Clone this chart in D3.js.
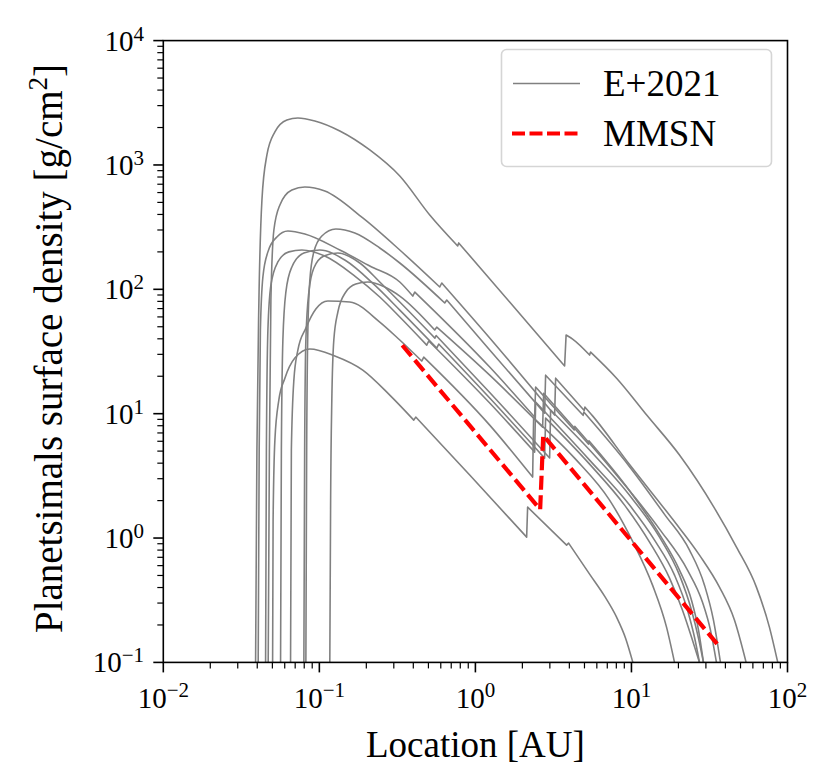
<!DOCTYPE html>
<html><head><meta charset="utf-8">
<script src="https://cdn.jsdelivr.net/npm/d3@7"></script>
<style>
body{margin:0;background:#fff}
svg{display:block}
text{font-family:"Liberation Serif","Times New Roman",serif;fill:#000}
</style>
</head><body>
<svg id="chart" width="830" height="774"></svg>
<script>
// ---- data ----
// Each E+2021 curve is a list of segments [location AU, surface density g/cm^2];
// consecutive segments are joined by the sharp steps of the curve.
const curveA = [
  [[0.03903,0.1],[0.0398,5.1],[0.0410,82],[0.04286,523],[0.04613,1203],[0.05189,1843],[0.06192,2301],[0.07283,2389],[0.09359,2259],[0.1353,1877],[0.2105,1320],[0.3277,815],[0.5099,396],[0.7701,223]],
  [[0.7818,236],[1.658,79.0],[3.730,24.2]],
  [[3.813,42.9],[4.197,39.8],[5.392,29.6]],
  [[5.473,31.3],[8.03,19.3],[12.68,9.57],[20.32,4.65],[34.04,1.74],[47.1,0.845],[63.2,0.403],[76.56,0.192],[86.6,0.1]]
];
const curveB = [
  [[0.04701,0.1],[0.04785,5.1],[0.04892,82],[0.05113,300],[0.05587,477],[0.06666,629],[0.08076,665],[0.1084,618],[0.1898,375],[0.3277,207],[0.5909,104.4]],
  [[0.6086,112.4],[1.235,40.6],[3.219,9.74]],
  [[3.267,19.3],[4.98,10.6]],
  [[5.03,11.3],[5.636,9.6],[9.723,3.9],[18.33,1.42],[27.29,0.729],[36.64,0.403],[45.71,0.219],[54.3,0.1]]
];
const curveC = [
  [[0.04056,0.1],[0.04116,5.1],[0.0419,47.1],[0.04347,125.6],[0.04681,200],[0.05344,263.6],[0.06285,294.4],[0.08076,278.5],[0.1353,207],[0.2105,154],[0.3277,114.5],[0.3968,88.3]],
  [[0.4088,95.1],[1.235,23.7],[2.397,9.39]],
  [[2.432,16.4],[4.30,7.4]],
  [[4.34,7.9],[8.391,3.0],[15.13,1.18],[22.87,0.552],[28.53,0.305],[32.09,0.182],[35.06,0.1]]
];
const curveD = [
  [[0.08196,0.1],[0.08293,5.1],[0.08441,47.1],[0.08695,119],[0.09222,200],[0.1038,268.5],[0.1275,305.6],[0.1688,283.8],[0.2439,215],[0.3277,162.8],[0.6361,77.6]],
  [[0.6553,82.0],[1.235,32.5],[2.777,10.1]],
  [[2.818,20.4],[4.9,9.7]],
  [[4.95,10.3],[9.723,3.75],[16.29,1.55],[23.55,0.799],[29.38,0.418],[33.54,0.219],[37.19,0.1]]
];
const curveE = [
  [[0.1167,0.1],[0.1181,2.02],[0.1202,12.9],[0.1238,39.1],[0.1314,65.7],[0.1478,95.1],[0.1713,110.3],[0.2044,114.5],[0.2627,104.4],[0.3277,88.3],[0.5489,47.1]],
  [[0.5651,49.7],[1.235,20.4],[2.697,7.80]],
  [[2.737,14.6],[5.3,5.7]],
  [[5.34,6.05],[9.723,2.4],[15.13,1.07],[20.32,0.552],[24.26,0.316],[26.9,0.182],[28.94,0.1]]
];
const curveF = [
  [[0.06539,0.1],[0.06617,5.1],[0.06866,18.6],[0.07283,32.5],[0.08196,48.8],[0.09497,69.4],[0.1133,80.5],[0.1567,79.0],[0.2439,54.6],[0.3277,39.1],[0.4532,26.5]],
  [[0.4667,28.5],[1.235,8.09],[2.327,3.09]],
  [[2.361,9.22],[4.322,4.39],[7.241,2.02],[10.16,0.944],[13.65,0.418],[16.78,0.192],[18.88,0.1]]
];
const curveG = [
  [[0.05017,0.1],[0.05054,1.39],[0.05189,6.13],[0.05502,12.9],[0.06014,19.3],[0.06966,28.0],[0.08695,33.1],[0.1257,29.1],[0.1898,22.4],[0.2827,14.1],[0.4027,8.88]],
  [[0.4147,9.39],[0.9195,3.21],[2.130,1.017]],
  [[2.161,1.773],[3.841,0.877]],
  [[3.956,0.910],[5.392,0.5125],[6.727,0.341],[8.03,0.231],[9.17,0.1565],[10.21,0.1]]
];
const curveH = [
  [[0.04524,0.1],[0.04578,5.1],[0.04681,47.1],[0.04892,108],[0.05423,165.9],[0.06378,200],[0.07726,207],[0.1084,185.3],[0.1688,127.9],[0.2439,86.7],[0.3277,59.9],[0.4878,35.6]],
  [[0.5024,38.4],[1.235,12.17],[2.397,4.91]],
  [[2.432,12.4],[5.392,4.23],[9.723,1.84],[14.06,0.962],[18.88,0.503],[22.87,0.263],[25.35,0.1594],[27.29,0.1]]
];
const curveI = [
  [[0.05643,0.1],[0.0571,5.1],[0.05838,39.1],[0.06102,95.1],[0.06666,151.2],[0.07958,195.9],[0.1007,207],[0.1456,172],[0.2266,108],[0.3277,68.1],[0.5652,33.7]],
  [[0.5821,36.3],[1.235,13.35],[2.777,4.39]],
  [[2.818,9.22],[5.392,3.93],[9.033,1.84],[13.06,0.927],[17.54,0.476],[21.24,0.263],[24.61,0.151],[27.29,0.1]]
];
const curveJ = [
  [[0.07958,0.1],[0.08051,5.1],[0.08196,39.1],[0.08566,95.1],[0.09222,148.4],[0.1069,185.3],[0.1314,195.9],[0.1816,162.8],[0.2439,114.5],[0.3277,79.0],[0.55,40.5]],
  [[0.56,42.5],[1.235,14.8],[2.990,4.4]],
  [[3.034,10.7],[5.392,5.10],[9.723,2.21],[15.13,1.017],[20.32,0.503],[24.26,0.263],[26.9,0.1565],[28.94,0.1]]
];
const e2021Curves = [curveA, curveB, curveC, curveD, curveE, curveF, curveG, curveH, curveI, curveJ];

// MMSN (inner and outer parts with the step at the snow line)
const mmsn = [[[0.34,35.5],[2.6,1.7]],[[2.72,6.7],[36.6,0.134]]];

const xTickExps = ["\u22122","\u22121","0","1","2"];
const xTickVals = [1e-2,1e-1,1e0,1e1,1e2];
const yTickExps = ["\u22121","0","1","2","3","4"];
const yTickVals = [1e-1,1e0,1e1,1e2,1e3,1e4];
const legendLabels = ["E+2021","MMSN"];

// ---- layout ----
const L=163.3, R=787.5, T=40.6, B=662.4;
const svg = d3.select("#chart");
svg.append("rect").attr("width",830).attr("height",774).attr("fill","#fff");

const x = d3.scaleLog().domain([1e-2,1e2]).range([L,R]);
const y = d3.scaleLog().domain([1e-1,1e4]).range([B,T]);

svg.append("clipPath").attr("id","plotclip").append("rect")
  .attr("x",L).attr("y",T).attr("width",R-L).attr("height",B-T);

const line = d3.line().x(d=>x(d[0])).y(d=>y(d[1])).curve(d3.curveMonotoneX);
function segPath(segs){
  return segs.map((s,i)=>{ const p=line(s); return i===0 ? p : "L"+p.slice(1); }).join("");
}

const plot = svg.append("g").attr("clip-path","url(#plotclip)");
plot.selectAll("path.e21").data(e2021Curves).join("path")
  .attr("class","e21")
  .attr("d", d=>segPath(d))
  .attr("fill","none").attr("stroke","#808080").attr("stroke-width",1.6)
  .attr("stroke-linejoin","round");

plot.append("path").attr("d", segPath(mmsn))
  .attr("fill","none").attr("stroke","#ff0000").attr("stroke-width",4.2)
  .attr("stroke-dasharray","14,5.5");

// ---- axes ----
const ax = svg.append("g").attr("stroke","#000");
svg.append("rect").attr("x",L).attr("y",T).attr("width",R-L).attr("height",B-T)
  .attr("fill","none").attr("stroke","#000").attr("stroke-width",1.6);

const isMajor = v => Math.abs(Math.log10(v)-Math.round(Math.log10(v)))<1e-6;
x.ticks().forEach(v=>{
  const len = isMajor(v)?10:6;
  ax.append("line").attr("x1",x(v)).attr("x2",x(v)).attr("y1",B).attr("y2",B+len)
    .attr("stroke-width",isMajor(v)?1.6:1.2);
});
y.ticks().forEach(v=>{
  const len = isMajor(v)?10:6;
  ax.append("line").attr("y1",y(v)).attr("y2",y(v)).attr("x1",L).attr("x2",L-len)
    .attr("stroke-width",isMajor(v)?1.6:1.2);
});

xTickVals.forEach((v,i)=>{
  const t = svg.append("text").attr("x",x(v)).attr("y",708).attr("text-anchor","middle")
    .attr("font-size",29);
  t.append("tspan").text("10");
  t.append("tspan").attr("dy",-11).attr("font-size",21).text(xTickExps[i]);
});
yTickVals.forEach((v,i)=>{
  const t = svg.append("text").attr("x",144).attr("y",y(v)+10).attr("text-anchor","end")
    .attr("font-size",29);
  t.append("tspan").text("10");
  t.append("tspan").attr("dy",-10).attr("font-size",21).text(yTickExps[i]);
});

svg.append("text").attr("x",(L+R)/2).attr("y",757).attr("text-anchor","middle")
  .attr("font-size",37).text("Location [AU]");

const yl = svg.append("text").attr("transform",`translate(62,${(T+B)/2 - 3}) rotate(-90)`)
  .attr("text-anchor","middle").attr("font-size",39);
yl.append("tspan").text("Planetsimals surface density [g/cm");
yl.append("tspan").attr("dy",-15).attr("font-size",27).text("2");
yl.append("tspan").attr("dy",15).text("]");

// ---- legend ----
const lg = svg.append("g");
lg.append("rect").attr("x",501.5).attr("y",49.5).attr("width",270).attr("height",117).attr("rx",5)
  .attr("fill","#fff").attr("fill-opacity",0.8).attr("stroke","#d5d5d5").attr("stroke-width",1.6);
lg.append("line").attr("x1",513).attr("x2",580).attr("y1",83.5).attr("y2",83.5)
  .attr("stroke","#808080").attr("stroke-width",1.6);
lg.append("line").attr("x1",512).attr("x2",580).attr("y1",133.5).attr("y2",133.5)
  .attr("stroke","#ff0000").attr("stroke-width",4.2).attr("stroke-dasharray","13,4.5");
lg.append("text").attr("x",603).attr("y",96).attr("font-size",37).text(legendLabels[0]);
lg.append("text").attr("x",603).attr("y",146).attr("font-size",37).text(legendLabels[1]);
</script>
</body></html>
